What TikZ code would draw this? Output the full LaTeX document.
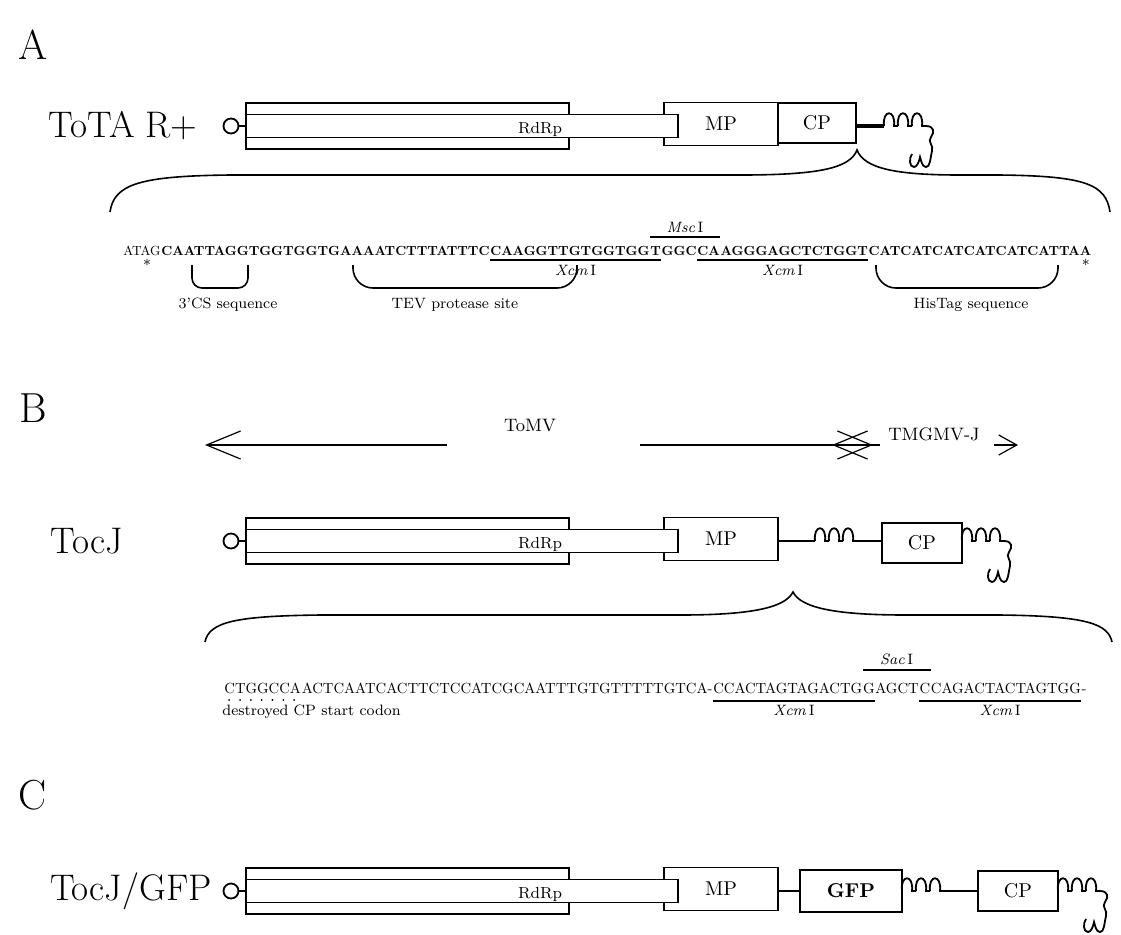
\documentclass[tikz,border=0pt]{standalone}
\usepackage{fontspec}
\newfontfamily\seqfont{lmroman10}[Extension=.otf, UprightFont=*-regular, BoldFont=*-bold, ItalicFont=*-italic]
\usepackage{tikz}
\usetikzlibrary{arrows.meta,positioning}

\tikzset{
  panel/.style={font=\fontsize{21}{25}\selectfont},
  construct/.style={font=\fontsize{18.5}{22}\selectfont, inner sep=0pt},
  gene/.style={draw, line width=0.9pt, fill=white, inner sep=0pt, font=\fontsize{10}{12}\selectfont},
  cap5/.style={draw, line width=0.9pt, circle, inner sep=0pt, minimum size=7.5pt},
  seqA/.style={inner sep=0pt, anchor=base west, font=\seqfont\fontsize{6.6}{8}\selectfont\bfseries},
  seqB/.style={inner sep=0pt, anchor=base west, font=\seqfont\fontsize{7.35}{9}\selectfont},
  note/.style={font=\fontsize{7.5}{9}\selectfont, inner sep=1pt},
  strand/.style={line width=0.9pt},
  site/.style={line width=0.8pt},
  brk/.style={line width=0.8pt, rounded corners=#1},
  span/.style={line width=0.6pt, -{Straight Barb[length=17pt, width=14pt]}},
  shortspan/.style={line width=0.6pt, -{Straight Barb[length=9pt, width=10pt]}}
}

% genomic part shared by the three constructs
\newcommand{\genome}[2]{%
  \node[cap5] (#1cap) at (231,#2) {};
  \node[gene, minimum width=161.5pt, minimum height=23pt] (#1rep) at (407.5,#2) {};
  \node[gene, minimum width=57pt, minimum height=21.5pt] (#1mp) at (721,#2-2) {MP};
  \node[gene, minimum width=216pt, minimum height=11.5pt] (#1str) at (462,#2) {};
  \node[note, anchor=base, font=\fontsize{8}{9}\selectfont] at (540,#2+7) {RdRp};
  \draw[strand] (#1cap) -- (#1rep);
}
% three loops
\newcommand{\loops}[2]{%
  \foreach \k in {0,1,2}
    \draw[strand] ({#1+14*\k},#2) .. controls ({#1+14*\k-2},{#2-17}) and ({#1+14*\k+12},{#2-17}) .. ({#1+14*\k+10},#2) -- ({#1+14*\k+14},#2);
}
% 3' end
\newcommand{\tailend}[2]{%
  \begin{scope}[shift={(#1,#2)}]
    \draw[strand] (0,0) .. controls (8,0) and (9,6) .. (5,11)
      .. controls (1,16) and (8,19) .. (6,25)
      .. controls (4,34) and (4,41) .. (0,41)
      .. controls (-4,41) and (-5,34) .. (-6,31)
      .. controls (-7,36) and (-9,41) .. (-12,41)
      .. controls (-17,41) and (-17,32) .. (-14,28);
  \end{scope}
}

\begin{document}
\begin{tikzpicture}[x=0.5pt, y=-0.5pt]
\useasboundingbox (0,0) rectangle (1121,934);

% ---- A ----
\node[panel] (labA) at (33,45) {A};
\node[construct, anchor=east] (tota) at (198,126) {ToTA R+};
\genome{a}{126}
\node[gene, minimum width=39pt, minimum height=20pt] (acp) at (817,123) {CP};
\coordinate (ahead) at (884,126);
\draw[line width=1.6pt] (acp.east |- ahead) -- (ahead);
\loops{884}{126}
\tailend{926}{126}

\draw[line width=0.8pt] (110,212) .. controls (114,184) and (140,176) .. (230,175) -- (740,175)
  .. controls (820,175) and (850,168) .. (857,150)
  .. controls (864,168) and (894,175) .. (960,175) -- (1000,175)
  .. controls (1085,176) and (1106,184) .. (1110,212);

\node[seqA, font=\seqfont\fontsize{6.6}{8}\selectfont] (p1) at (123,255) {ATAG};
\node[seqA] (p2) at (p1.base east) {CAATTAGGTGGTGGTGAAAATCTTTATTTC};
\node[seqA] (p3) at (p2.base east) {CAAGGTTGTGGTGG};
\node[seqA] (p4) at (p3.base east) {T};
\node[seqA] (p5) at (p4.base east) {GGC};
\node[seqA] (p6) at (p5.base east) {CA};
\node[seqA] (p7) at (p6.base east) {AGGGAGCTCTGGT};
\node[seqA] (p8) at (p7.base east) {CATCATCATCATCATCATTAA};
\node[note, anchor=north] (ast1) at ([xshift=12pt,yshift=-1pt]p1.base west) {*};
\node[note, anchor=north] (ast2) at ([xshift=-3pt,yshift=-1pt]p8.base east) {*};

\draw[site] ([yshift=9pt]p4.base west) -- node[note, above=1pt] {\textit{Msc}\,I} ([yshift=9pt]p6.base east);
\draw[site] ([yshift=-2.5pt]p3.base west) -- node[note, below=1pt] {\textit{Xcm}\,I} ([yshift=-2.5pt]p4.base east);
\draw[site] ([yshift=-2.5pt]p6.base west) -- node[note, below=1pt] {\textit{Xcm}\,I} ([yshift=-2.5pt]p7.base east);

\draw[brk=5pt] (192,265) -- (192,288) -- (248,288) -- (248,265);
\node[note, anchor=north] (cs3) at (228,296) {3'CS sequence};
\draw[brk=10pt] (353,265) -- (353,288) -- (577,288) -- (577,265);
\node[note, anchor=north] (tev) at (455,296) {TEV protease site};
\draw[brk=10pt] (876,265) -- (876,288) -- (1058,288) -- (1058,265);
\node[note, anchor=north] (his) at (971,296) {HisTag sequence};

% ---- B ----
\node[panel] (labB) at (33,408) {B};
\node[note, font=\fontsize{9}{11}\selectfont] (tomv) at (530,426) {ToMV};
\node[note, font=\fontsize{9}{11}\selectfont] (tmgmv) at (934,434) {TMGMV-J};
\coordinate (l1) at (447,445); \coordinate (l0) at (205,445);
\coordinate (r1) at (640,445); \coordinate (r0) at (873,445);
\coordinate (m1) at (880,445); \coordinate (m0) at (832,445);
\coordinate (n1) at (994,445); \coordinate (n0) at (1018,445);
\draw[span] (l1) -- (l0);
\draw[span] (r1) -- (r0);
\draw[span] (m1) -- (m0);
\draw[shortspan] (n1) -- (n0);

\node[construct, anchor=west] (tocj) at (50,541) {TocJ};
\genome{b}{541}
\node[gene, minimum width=40pt, minimum height=20pt] (bcp) at (922,543) {CP};
\coordinate (bl0) at (815,541);
\coordinate (bl1) at (857,541);
\draw[strand] (bmp.east |- bl0) -- (bl0);
\loops{815}{541}
\draw[strand] (bl1) -- (bcp.west |- bl1);
\loops{962}{541}
\tailend{1004}{541}

\draw[line width=0.8pt] (205,642) .. controls (209,622) and (235,616) .. (320,615) -- (680,615)
  .. controls (750,615) and (785,608) .. (793,592)
  .. controls (801,608) and (836,615) .. (906,615) -- (1000,615)
  .. controls (1088,616) and (1108,624) .. (1112,642);

\node[seqB] (q0) at (224,693) {CTGGCCA};
\node[seqB] (q1) at (q0.base east) {ACTCAATCACTTCTCCATCGCAATTTGTGTTTTTGTCA-};
\node[seqB] (q2) at (q1.base east) {CCACTAGTAGACTG};
\node[seqB] (q3) at (q2.base east) {G};
\node[seqB] (q4) at (q3.base east) {AGCT};
\node[seqB] (q5) at (q4.base east) {C};
\node[seqB] (q6) at (q5.base east) {CAGACTACTAGTGG};
\node[seqB] (q7) at (q6.base east) {-};
\draw[line width=1pt, line cap=round, dash pattern=on 0.01pt off 5.4pt] ([xshift=2.6pt,yshift=-3.5pt]q0.base west) -- ([yshift=-3.5pt]q0.base east);
\node[note, anchor=north west] (codon) at ([xshift=-2pt,yshift=-5pt]q0.base west) {destroyed CP start codon};

\draw[site] ([yshift=11.5pt]q3.base west) -- node[note, above=1pt] {\textit{Sac}\,I} ([yshift=11.5pt]q5.base east);
\draw[site] ([yshift=-4pt]q2.base west) -- node[note, below=0.5pt] {\textit{Xcm}\,I} ([yshift=-4pt]q3.base east);
\draw[site] ([yshift=-4pt]q5.base west) -- node[note, below=0.5pt] {\textit{Xcm}\,I} ([yshift=-4pt]q6.base east);

% ---- C ----
\node[panel] (labC) at (33,795) {C};
\node[construct, anchor=east] (tocgfp) at (212,891) {TocJ/GFP};
\genome{c}{891}
\node[gene, minimum width=51pt, minimum height=21pt, font=\fontsize{10}{12}\selectfont\bfseries] (cgfp) at (851,891) {GFP};
\draw[line width=1.3pt] (cmp.east |- cgfp) -- (cgfp);
\loops{902}{891}
\node[gene, minimum width=40pt, minimum height=20pt] (ccp) at (1018,891) {CP};
\coordinate (cl1) at (944,891);
\draw[strand] (cl1) -- (ccp);
\loops{1058}{891}
\tailend{1100}{891}
\end{tikzpicture}
\end{document}
